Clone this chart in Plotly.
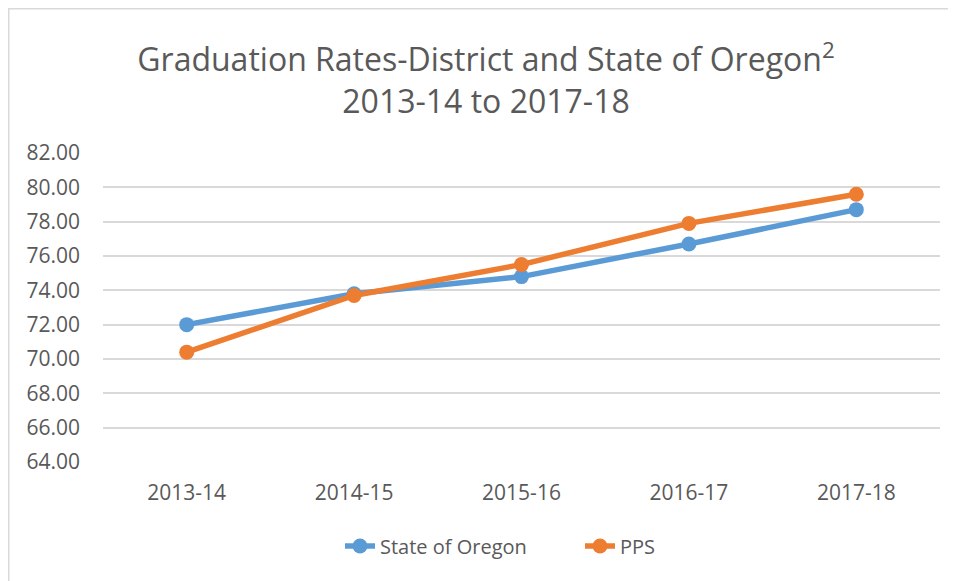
import plotly.graph_objects as go

years = ["2013-14", "2014-15", "2015-16", "2016-17", "2017-18"]
state_of_oregon = [72.0, 73.8, 74.8, 76.7, 78.7]
pps = [70.4, 73.7, 75.5, 77.9, 79.6]
y_ticks = [64, 66, 68, 70, 72, 74, 76, 78, 80, 82]

FONT = "Open Sans"
GREY = "#595959"

fig = go.Figure()
fig.add_trace(go.Scatter(
    x=years, y=state_of_oregon, name="State of Oregon", mode="lines+markers",
    line=dict(color="#5B9BD5", width=5.5), marker=dict(size=15, color="#5B9BD5")))
fig.add_trace(go.Scatter(
    x=years, y=pps, name="PPS", mode="lines+markers",
    line=dict(color="#ED7D31", width=5.5), marker=dict(size=15, color="#ED7D31")))

# page body adds an 8px offset; figure coords = screen coords - 8
L, T = 95, 145
W, H = 956, 581
R = W - 932
B = H - 454
pw, ph = W - L - R, H - T - B
bx = (0.5 - L) / pw
by = (H - B - 0.5) / ph

fig.update_layout(
    width=W, height=H,
    margin=dict(l=L, r=R, t=T, b=B),
    paper_bgcolor="white", plot_bgcolor="white",
    font=dict(family=FONT, color=GREY),
    title=dict(text="Graduation Rates-District and State of Oregon<sup>2</sup><br>2013-14 to 2017-18",
               x=0.5, xanchor="center", yref="container", y=1 - 63 / H, yanchor="middle",
               font=dict(size=32, color=GREY, family=FONT)),
    showlegend=True,
    legend=dict(orientation="h", x=(377 - 45 - L) / pw, xanchor="left", y=-0.272, yanchor="middle",
                font=dict(size=20, color=GREY), entrywidth=195, entrywidthmode="pixels"),
    xaxis=dict(showgrid=False, showline=False, zeroline=False, range=[-0.5, 4.5],
               tickfont=dict(size=21, color=GREY), ticks="", ticklabelstandoff=16),
    yaxis=dict(range=[64, 82], tickvals=y_ticks, ticktext=[f"{v:.2f}" for v in y_ticks],
               showgrid=True, gridcolor="#D9D9D9", gridwidth=2, zeroline=False, showline=False,
               tickfont=dict(size=21, color=GREY), ticks="", ticklabelstandoff=22),
    shapes=[dict(type="path", xref="paper", yref="paper",
                 path=f"M {bx},-0.5 L {bx},{by} L 1.2,{by}",
                 line=dict(color="#D9D9D9", width=2))],
)
fig.write_html("out.html")
